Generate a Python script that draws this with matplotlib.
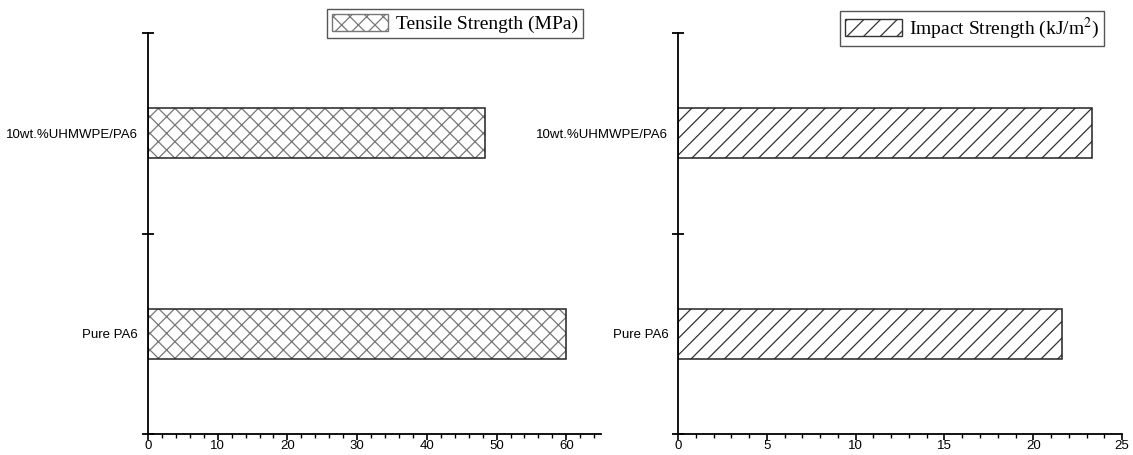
import matplotlib
matplotlib.use('Agg')
import matplotlib.pyplot as plt
from matplotlib.patches import Patch
from matplotlib.ticker import MultipleLocator, FixedLocator, NullFormatter

plt.rcParams['font.family'] = ['Liberation Sans', 'DejaVu Sans']
plt.rcParams['mathtext.fontset'] = 'stix'
plt.rcParams['hatch.linewidth'] = 0.9

samples = ['Pure PA6', '10wt.%UHMWPE/PA6']
tensile = [60.0, 48.4]
impact = [21.6, 23.3]
titles = ['Tensile Strength (MPa)', 'Impact Strength (kJ/m$^2$)']

ypos = [0.5, 1.5]

fig = plt.figure(figsize=(11.33, 4.55), dpi=100)
ax1 = fig.add_axes([0.1306, 0.046, 0.4, 0.881])
ax2 = fig.add_axes([0.5984, 0.046, 0.392, 0.881])

def draw(ax, vals, hatch, hcol, title, xmax, major, minor, anchor):
    ax.barh(ypos, vals, height=0.25, color='white', edgecolor=hcol,
            hatch=hatch, linewidth=0)
    ax.barh(ypos, vals, height=0.25, fill=False, edgecolor='#222222', linewidth=1.1)
    ax.set_xlim(0, xmax)
    ax.set_ylim(0, 2)
    ax.spines['top'].set_visible(False)
    ax.spines['right'].set_visible(False)
    ax.spines['left'].set_linewidth(1.3)
    ax.spines['bottom'].set_linewidth(1.3)
    ax.xaxis.set_major_locator(MultipleLocator(major))
    ax.xaxis.set_minor_locator(MultipleLocator(minor))
    ax.tick_params(axis='x', which='major', direction='out', length=4, width=1.2,
                   labelsize=9.5, pad=0.5)
    ax.tick_params(axis='x', which='minor', direction='out', length=3, width=1.0)
    # category labels sit between the major y ticks
    ax.yaxis.set_major_locator(FixedLocator([0, 1, 2]))
    ax.yaxis.set_major_formatter(NullFormatter())
    ax.yaxis.set_minor_locator(FixedLocator(ypos))
    ax.set_yticklabels(samples, minor=True)
    ax.tick_params(axis='y', which='major', direction='inout', length=8, width=1.3)
    ax.tick_params(axis='y', which='minor', length=0, labelsize=9.5, pad=7)
    handle = Patch(facecolor='white', edgecolor=hcol, hatch=hatch, linewidth=1.0)
    leg = ax.legend([handle], [title], loc='upper right', bbox_to_anchor=anchor,
                    frameon=True, fancybox=False, edgecolor='#555555', framealpha=1,
                    prop={'family': 'Liberation Serif', 'size': 14},
                    handlelength=2.9, handleheight=1.0, handletextpad=0.4,
                    borderpad=0.25, borderaxespad=0)
    leg.get_frame().set_linewidth(1.0)

draw(ax1, tensile, 'xx', '#777777', titles[0], 65, 10, 2, (0.96, 1.06))
draw(ax2, impact, '//', '#333333', titles[1], 25, 5, 1, (0.96, 1.055))

fig.savefig('out.png', dpi=100)
